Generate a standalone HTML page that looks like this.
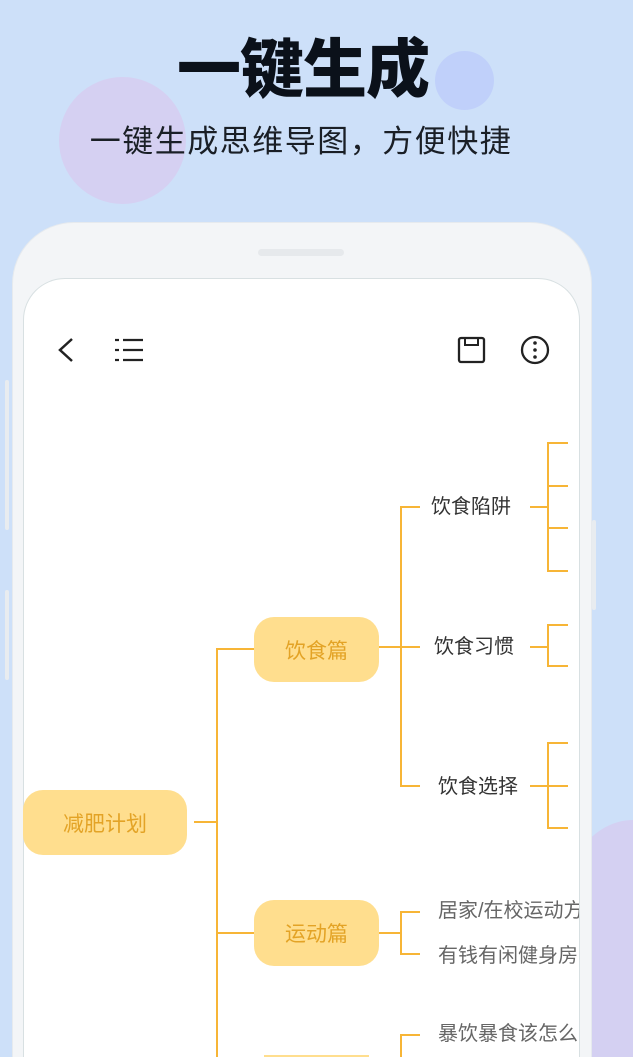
<!DOCTYPE html>
<html style="width:633px;height:1057px;overflow:hidden"><head><meta charset="utf-8"><style>
*{margin:0;padding:0;box-sizing:border-box}
body{width:633px;height:1057px;overflow:hidden;background:#cde0f9;position:relative;font-family:"Liberation Sans","Noto Sans CJK SC",sans-serif}
#wrap{position:absolute;left:0;top:0;width:633px;height:1057px;overflow:hidden}
.abs{position:absolute}
.t{position:absolute;font-size:20px;color:#333;white-space:nowrap;line-height:1}
.g{color:#666}
.box{position:absolute;background:#ffde8e;border-radius:20px;color:#e3a326;font-size:21px;display:flex;align-items:center;justify-content:center}
.h{position:absolute;height:2px;background:#f7b536}
.v{position:absolute;width:2px;background:#f7b536}
</style></head><body><div id="wrap">
<div class="abs" style="left:59px;top:77px;width:127px;height:127px;border-radius:50%;background:#d5d0f2"></div>
<div class="abs" style="left:435px;top:51px;width:59px;height:59px;border-radius:50%;background:#c0d0fa"></div>
<div class="abs" style="left:560px;top:820px;width:73px;height:237px;border-radius:150px 0 0 0 / 200px 0 0 0;background:#d4d0f2"></div>
<div class="abs" style="left:0;top:34px;width:606px;text-align:center;font-size:64px;font-weight:900;color:#0b111a;line-height:72px;letter-spacing:-1px">一键生成</div>
<div class="abs" style="left:0;top:124px;width:602px;text-align:center;font-size:31px;color:#1a1f26;line-height:36px;letter-spacing:1.5px">一键生成思维导图，方便快捷</div>
<div class="abs" style="left:5px;top:380px;width:4px;height:150px;background:#e8ecf0;border-radius:2px"></div>
<div class="abs" style="left:5px;top:590px;width:4px;height:90px;background:#e8ecf0;border-radius:2px"></div>
<div class="abs" style="left:592px;top:520px;width:4px;height:90px;background:#e8ecf0;border-radius:2px"></div>
<div class="abs" style="left:12px;top:222px;width:580px;height:835px;border-radius:62px 62px 0 0;background:#f3f5f7;border:1px solid #e6eaee;border-bottom:none"></div>
<div class="abs" style="left:258px;top:249px;width:86px;height:7px;border-radius:4px;background:#e6e9ec"></div>
<div class="abs" style="left:23px;top:278px;width:557px;height:779px;border-radius:42px 42px 0 0;background:#fff;border:1px solid #d8e0e2;border-bottom:none"></div>
<svg class="abs" style="left:0;top:0" width="633" height="400">
<polyline points="72,339 60,350 72,361" fill="none" stroke="#222" stroke-width="2.5"/>
<g stroke="#222" stroke-width="2.2">
<line x1="115" y1="340" x2="119" y2="340"/><line x1="123" y1="340" x2="143" y2="340"/>
<line x1="115" y1="350" x2="119" y2="350"/><line x1="123" y1="350" x2="143" y2="350"/>
<line x1="115" y1="360" x2="119" y2="360"/><line x1="123" y1="360" x2="143" y2="360"/>
</g>
<rect x="459" y="338" width="25" height="24" rx="2" fill="none" stroke="#222" stroke-width="2.3"/>
<rect x="465" y="338" width="13" height="7" fill="none" stroke="#222" stroke-width="2"/>
<circle cx="535" cy="350" r="13" fill="none" stroke="#222" stroke-width="2.3"/>
<circle cx="535" cy="343" r="1.8" fill="#222"/><circle cx="535" cy="350" r="1.8" fill="#222"/><circle cx="535" cy="357" r="1.8" fill="#222"/>
</svg>
<div class="box" style="left:23px;top:790px;width:164px;height:65px">减肥计划</div>
<div class="box" style="left:254px;top:617px;width:125px;height:65px">饮食篇</div>
<div class="box" style="left:254px;top:900px;width:125px;height:66px">运动篇</div>
<div class="abs" style="left:264px;top:1055px;width:105px;height:2px;background:#ffde8e"></div>
<div class="h" style="left:194px;top:821px;width:24px"></div>
<div class="v" style="left:216px;top:648px;height:409px"></div>
<div class="h" style="left:216px;top:648px;width:38px"></div>
<div class="h" style="left:216px;top:932px;width:38px"></div>
<div class="h" style="left:379px;top:646px;width:23px"></div>
<div class="v" style="left:400px;top:506px;height:281px"></div>
<div class="h" style="left:400px;top:506px;width:20px"></div>
<div class="h" style="left:400px;top:646px;width:20px"></div>
<div class="h" style="left:400px;top:785px;width:20px"></div>
<div class="t" style="left:431px;top:497px">饮食陷阱</div>
<div class="t" style="left:434px;top:637px">饮食习惯</div>
<div class="t" style="left:438px;top:777px">饮食选择</div>
<div class="h" style="left:530px;top:506px;width:19px"></div>
<div class="v" style="left:547px;top:442px;height:130px"></div>
<div class="h" style="left:547px;top:442px;width:21px"></div>
<div class="h" style="left:547px;top:485px;width:21px"></div>
<div class="h" style="left:547px;top:527px;width:21px"></div>
<div class="h" style="left:547px;top:570px;width:21px"></div>
<div class="h" style="left:530px;top:646px;width:19px"></div>
<div class="v" style="left:547px;top:624px;height:43px"></div>
<div class="h" style="left:547px;top:624px;width:21px"></div>
<div class="h" style="left:547px;top:665px;width:21px"></div>
<div class="h" style="left:530px;top:785px;width:19px"></div>
<div class="v" style="left:547px;top:742px;height:87px"></div>
<div class="h" style="left:547px;top:742px;width:21px"></div>
<div class="h" style="left:547px;top:785px;width:21px"></div>
<div class="h" style="left:547px;top:827px;width:21px"></div>
<div class="h" style="left:379px;top:932px;width:23px"></div>
<div class="v" style="left:400px;top:911px;height:44px"></div>
<div class="h" style="left:400px;top:911px;width:20px"></div>
<div class="h" style="left:400px;top:953px;width:20px"></div>
<div class="abs" style="left:438px;top:899px;width:141px;height:70px;overflow:hidden">
<div class="t g" style="left:0;top:2px">居家/在校运动方</div>
<div class="t g" style="left:0;top:47px">有钱有闲健身房</div>
</div>
<div class="v" style="left:400px;top:1034px;height:23px"></div>
<div class="h" style="left:400px;top:1034px;width:20px"></div>
<div class="abs" style="left:438px;top:1022px;width:141px;height:30px;overflow:hidden">
<div class="t g" style="left:0;top:2px">暴饮暴食该怎么</div>
</div>
</div></body></html>
